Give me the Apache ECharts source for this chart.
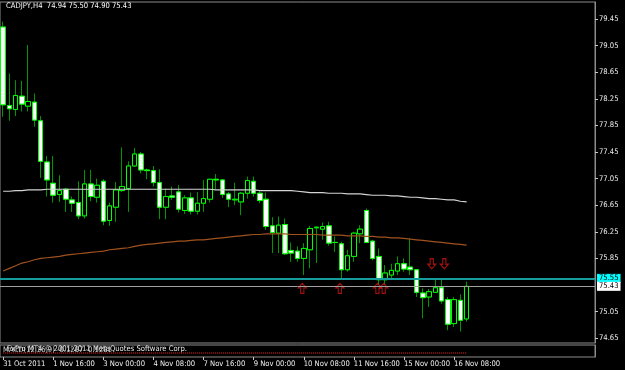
<!DOCTYPE html>
<html>
<head>
<meta charset="utf-8">
<script src="https://cdn.jsdelivr.net/npm/echarts@6/dist/echarts.min.js"></script>
<style>
  html, body { margin: 0; padding: 0; background: #000; }
  #chart { width: 625px; height: 370px; }
</style>
</head>
<body>
<div id="chart"></div>
<script>
const symbol = "CADJPY,H4";

// H4 candles, 31 Oct 2011 08:00 .. 16 Nov 2011 16:00
const opens = [
  79.33, 78.15, 78.09, 78.29, 78.14, 78.20, 77.92, 77.30, 76.98, 76.81,
  76.89, 76.73, 76.69, 76.49, 76.97, 76.77, 77.01, 76.42, 76.62, 76.87,
  76.90, 77.24, 77.42, 77.18, 77.17, 76.99, 76.62, 76.79, 76.85, 76.57,
  76.76, 76.56, 76.68, 76.74, 77.04, 77.03, 76.82, 76.73, 76.70, 76.83,
  77.01, 76.83, 76.74, 76.34, 76.23, 76.36, 75.97, 75.96, 75.85, 75.98,
  76.31, 76.29, 76.34, 76.09, 76.07, 75.68, 75.88, 76.22, 76.57, 76.11,
  75.88, 75.53, 75.60, 75.66, 75.77, 75.72, 75.68, 75.33, 75.27, 75.34,
  75.41, 75.23, 74.87, 75.22, 74.94
];
const highs = [
  79.41, 78.63, 78.53, 78.52, 79.06, 78.33, 77.99, 77.39, 77.39, 77.10,
  76.91, 76.78, 77.01, 77.18, 77.18, 77.05, 77.04, 76.69, 77.00, 77.52,
  77.31, 77.51, 77.45, 77.20, 77.24, 77.19, 76.90, 76.93, 76.95, 76.80,
  76.84, 76.85, 77.03, 77.05, 77.12, 77.04, 76.85, 76.99, 76.85, 77.08,
  77.08, 76.86, 76.84, 76.47, 76.48, 76.45, 76.09, 76.03, 76.08, 76.34,
  76.33, 76.39, 76.40, 76.18, 76.10, 75.98, 76.25, 76.35, 76.60, 76.13,
  76.00, 75.75, 75.77, 75.88, 75.85, 76.15, 75.69, 75.40, 75.39, 75.55,
  75.54, 75.27, 75.27, 75.31, 75.50
];
const lows = [
  77.98, 77.92, 77.99, 78.06, 78.06, 77.83, 77.06, 76.78, 76.69, 76.70,
  76.55, 76.55, 76.44, 76.45, 76.71, 76.69, 76.35, 76.34, 76.40, 76.85,
  76.55, 77.23, 77.13, 77.04, 76.93, 76.44, 76.44, 76.73, 76.54, 76.52,
  76.51, 76.51, 76.55, 76.69, 76.89, 76.76, 76.62, 76.65, 76.50, 76.75,
  76.78, 76.68, 76.28, 75.93, 75.93, 75.90, 75.80, 75.80, 75.60, 75.70,
  75.78, 76.13, 76.04, 75.95, 75.55, 75.65, 75.80, 76.08, 76.08, 75.82,
  75.45, 75.45, 75.53, 75.60, 75.65, 75.60, 75.27, 74.95, 75.12, 75.33,
  75.17, 74.77, 74.82, 74.75, 74.90
];
const closes = [
  78.16, 78.10, 78.30, 78.17, 78.21, 77.93, 77.31, 77.03, 76.80, 76.87,
  76.74, 76.68, 76.49, 76.97, 76.78, 76.95, 76.41, 76.64, 76.88, 76.93,
  77.24, 77.42, 77.18, 77.17, 76.99, 76.62, 76.78, 76.77, 76.59, 76.76,
  76.56, 76.68, 76.75, 77.04, 77.03, 76.81, 76.74, 76.74, 76.83, 77.02,
  76.83, 76.72, 76.33, 76.24, 76.35, 75.92, 75.93, 75.85, 76.00, 76.30,
  76.32, 76.33, 76.08, 76.09, 75.68, 75.89, 76.23, 76.29, 76.09, 75.85,
  75.53, 75.63, 75.67, 75.77, 75.69, 75.68, 75.34, 75.26, 75.35, 75.41,
  75.21, 74.86, 75.23, 74.92, 75.43
];

// slow moving average (light grey) and medium one (brown)
const maSlow = [
  76.86, 76.86, 76.87, 76.87, 76.88, 76.88, 76.88, 76.89, 76.89, 76.89,
  76.89, 76.89, 76.89, 76.89, 76.89, 76.89, 76.89, 76.89, 76.89, 76.89,
  76.89, 76.89, 76.89, 76.89, 76.89, 76.89, 76.89, 76.89, 76.89, 76.89,
  76.89, 76.89, 76.89, 76.89, 76.88, 76.88, 76.88, 76.88, 76.88, 76.88,
  76.88, 76.87, 76.87, 76.87, 76.87, 76.87, 76.87, 76.86, 76.85, 76.84,
  76.84, 76.84, 76.83, 76.83, 76.83, 76.82, 76.82, 76.82, 76.81, 76.80,
  76.80, 76.80, 76.79, 76.79, 76.78, 76.77, 76.77, 76.76, 76.75, 76.75,
  76.74, 76.73, 76.73, 76.71, 76.70
];
const maMid = [
  75.66, 75.70, 75.74, 75.78, 75.80, 75.83, 75.85, 75.86, 75.87, 75.88,
  75.90, 75.91, 75.92, 75.93, 75.94, 75.95, 75.96, 75.98, 75.99, 76.00,
  76.01, 76.03, 76.05, 76.06, 76.07, 76.08, 76.09, 76.10, 76.11, 76.11,
  76.12, 76.13, 76.13, 76.14, 76.15, 76.16, 76.17, 76.18, 76.19, 76.20,
  76.21, 76.21, 76.22, 76.22, 76.22, 76.22, 76.21, 76.21, 76.21, 76.21,
  76.21, 76.20, 76.20, 76.20, 76.20, 76.19, 76.19, 76.19, 76.18, 76.18,
  76.17, 76.17, 76.16, 76.16, 76.15, 76.14, 76.13, 76.12, 76.11, 76.10,
  76.09, 76.08, 76.07, 76.06, 76.05
];

// MACD signal line in the small sub window
const macdSignal = [
  -0.13, -0.13, -0.13, -0.13, -0.13, -0.13, -0.13, -0.13, -0.13, -0.13,
  -0.13, -0.13, -0.13, -0.13, -0.13, -0.13, -0.13, -0.13, -0.13, -0.13,
  -0.13, -0.13, -0.13, -0.13, -0.13, -0.13, -0.13, -0.13, -0.13, -0.13,
  -0.13, -0.13, -0.13, -0.13, -0.13, -0.13, -0.13, -0.13, -0.13, -0.13,
  -0.13, -0.13, -0.13, -0.13, -0.13, -0.13, -0.13, -0.13, -0.13, -0.13,
  -0.13, -0.13, -0.13, -0.13, -0.13, -0.13, -0.13, -0.13, -0.13, -0.13,
  -0.13, -0.13, -0.13, -0.13, -0.13, -0.13, -0.13, -0.13, -0.13, -0.13,
  -0.13, -0.13, -0.13, -0.13, -0.13
];

// arrow signals: bar index + price level
const upSignalIdx = [48, 54, 60, 61];
const upSignalPrice = [75.40, 75.40, 75.40, 75.40];
const downSignalIdx = [69, 71];
const downSignalPrice = [75.77, 75.77];

const askLevel = 75.55;
const bidLevel = 75.43;

const yTicks = [79.45, 79.05, 78.65, 78.25, 77.85, 77.45, 77.05, 76.65, 76.25, 75.85, 75.05, 74.65];
const xLabels = ["31 Oct 2011", "1 Nov 16:00", "3 Nov 00:00", "4 Nov 08:00", "7 Nov 16:00",
  "9 Nov 00:00", "10 Nov 08:00", "11 Nov 16:00", "15 Nov 00:00", "16 Nov 08:00"];
const labelStep = 8;

const FONT = "'Liberation Sans Narrow', 'DejaVu Sans Condensed', 'Liberation Sans', sans-serif";
const FS = 7.6;
const slots = 95;
const n = opens.length;
const cats = [];
for (let i = 0; i < slots; i++) cats.push(String(i));

const wickData = opens.map((o, i) => [o, closes[i], lows[i], highs[i]]);
const bodyData = opens.map((o, i) => [o, closes[i], Math.min(o, closes[i]), Math.max(o, closes[i])]);
const showLabel = (idx) => idx % labelStep === 0 && idx / labelStep < xLabels.length;

const last = n - 1;
const header = symbol + "  " + [opens[last], highs[last], lows[last], closes[last]].map((v) => v.toFixed(2)).join(" ");

const chart = echarts.init(document.getElementById("chart"));
chart.setOption({
  backgroundColor: "#000",
  animation: false,
  title: {
    text: header,
    left: 2,
    top: 2,
    padding: [0, 4],
    textStyle: { color: "#fff", fontSize: FS, fontWeight: "normal", fontFamily: FONT },
  },
  graphic: [
    {
      type: "text", left: 3, top: 346,
      style: { text: "MACD(12,26,9) -0.1287 -0.1281", fill: "#d8d8d8", font: FS + "px " + FONT },
    },
    {
      type: "text", left: 7, top: 345,
      style: { text: "FxPro MT4 \u00a9 2001-2011 MetaQuotes Software Corp.", fill: "#e8e8e8", font: FS + "px " + FONT },
    },
  ],
  grid: [
    { left: 0, right: 30, top: 2, bottom: 27, show: true, borderColor: "#8c8c8c", borderWidth: 1, backgroundColor: "#000" },
    { left: 0, right: 30, top: 345, bottom: 13, show: true, borderColor: "#8c8c8c", borderWidth: 1, backgroundColor: "#000" },
  ],
  xAxis: [
    {
      type: "category", data: cats, gridIndex: 0,
      axisLine: { show: false }, axisTick: { show: false }, axisLabel: { show: false },
    },
    {
      type: "category", data: cats, gridIndex: 1,
      axisLine: { show: false },
      axisTick: { show: true, alignWithLabel: true, length: 3, interval: (i) => showLabel(i), lineStyle: { color: "#c8c8c8" } },
      axisLabel: {
        show: true, interval: (i) => showLabel(i), align: "left", margin: 3, hideOverlap: false,
        color: "#f0f0f0", fontSize: FS, fontFamily: FONT,
        formatter: (v) => { const i = +v; return showLabel(i) ? xLabels[i / labelStep] : ""; },
      },
    },
  ],
  yAxis: [
    {
      type: "value", gridIndex: 0, position: "right", min: 74.578, max: 79.706,
      splitLine: { show: false },
      axisLine: { show: true, lineStyle: { color: "#8c8c8c" } },
      axisTick: { show: true, length: 3, customValues: yTicks, lineStyle: { color: "#c8c8c8" } },
      axisLabel: {
        show: true, customValues: yTicks, margin: 4, color: "#f0f0f0", fontSize: FS, fontFamily: FONT,
        formatter: (v) => v.toFixed(2),
      },
    },
    {
      type: "value", gridIndex: 1, position: "right", min: -0.17, max: -0.05,
      splitLine: { show: false }, axisLabel: { show: false }, axisTick: { show: false },
      axisLine: { show: true, lineStyle: { color: "#8c8c8c" } },
    },
  ],
  series: [
    {
      name: "wicks", type: "candlestick", data: wickData, barWidth: 5,
      itemStyle: { color: "#009600", color0: "#009600", borderColor: "#009600", borderColor0: "#009600", borderWidth: 1 },
      markLine: {
        symbol: ["none", "none"], silent: true,
        data: [
          {
            yAxis: askLevel,
            lineStyle: { color: "#159c9c", width: 2, type: "solid" },
            label: { position: "end", distance: 2, formatter: askLevel.toFixed(2), color: "#000", backgroundColor: "#00ffff",
              fontSize: FS, fontFamily: FONT, padding: [1, 2, 0, 2] },
          },
          {
            yAxis: bidLevel,
            lineStyle: { color: "#a0a0a0", width: 1, type: "solid" },
            label: { position: "end", distance: 2, formatter: bidLevel.toFixed(2), color: "#000", backgroundColor: "#ffffff",
              fontSize: FS, fontFamily: FONT, padding: [1, 2, 0, 2] },
          },
        ],
      },
    },
    {
      name: "bodies", type: "candlestick", data: bodyData, barWidth: 5,
      itemStyle: { color: "#000", color0: "#fff", borderColor: "#00ff00", borderColor0: "#00ff00", borderWidth: 1 },
    },
    {
      name: "maSlow", type: "line", data: maSlow, symbol: "none",
      lineStyle: { color: "#d4d4d4", width: 1.2 },
    },
    {
      name: "maMid", type: "line", data: maMid, symbol: "none",
      lineStyle: { color: "#a0521e", width: 1.2 },
    },
    {
      name: "up", type: "scatter",
      data: upSignalIdx.map((x, i) => [x, upSignalPrice[i]]),
      symbol: "path://M4,0 L8,4.5 L5.6,4.5 L5.6,10 L2.4,10 L2.4,4.5 L0,4.5 Z",
      symbolSize: [8, 10], symbolOffset: [-1.5, 0],
      itemStyle: { color: "rgba(0,0,0,0)", borderColor: "#c81414", borderWidth: 1.2 },
    },
    {
      name: "down", type: "scatter",
      data: downSignalIdx.map((x, i) => [x, downSignalPrice[i]]),
      symbol: "path://M4,10 L8,5.5 L5.6,5.5 L5.6,0 L2.4,0 L2.4,5.5 L0,5.5 Z",
      symbolSize: [8, 10], symbolOffset: [-3.5, 0],
      itemStyle: { color: "rgba(0,0,0,0)", borderColor: "#c81414", borderWidth: 1.2 },
    },
    {
      name: "signal", type: "line", xAxisIndex: 1, yAxisIndex: 1, data: macdSignal, symbol: "none",
      lineStyle: { color: "#ff2020", width: 1, type: "dotted" },
    },
  ],
});
</script>
</body>
</html>
